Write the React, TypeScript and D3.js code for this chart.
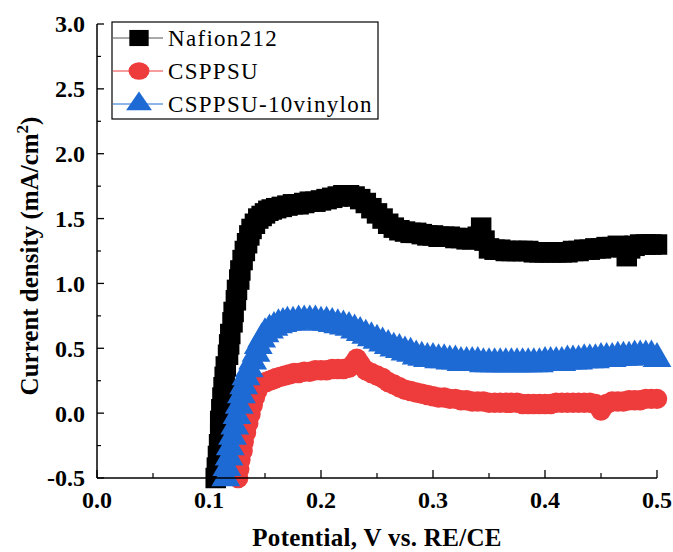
import React from "react";
import * as d3 from "d3";

// ---- data (potential V, current density mA/cm2) ----
const nafion212: [number, number][] = [
  [0.106, -0.5], [0.107, -0.42], [0.108, -0.33], [0.109, -0.24], [0.110, -0.15], [0.110, -0.06],
  [0.111, 0.03], [0.112, 0.12], [0.113, 0.2], [0.114, 0.28], [0.115, 0.36], [0.117, 0.45],
  [0.118, 0.53], [0.119, 0.61], [0.121, 0.7], [0.122, 0.78], [0.124, 0.87], [0.125, 0.95],
  [0.127, 1.03], [0.128, 1.1], [0.130, 1.18], [0.132, 1.25], [0.134, 1.31], [0.136, 1.37],
  [0.138, 1.42], [0.141, 1.46], [0.144, 1.5], [0.147, 1.52], [0.150, 1.54], [0.153, 1.56],
  [0.156, 1.57], [0.160, 1.58], [0.165, 1.59], [0.170, 1.6], [0.175, 1.61], [0.180, 1.61],
  [0.185, 1.62], [0.190, 1.63], [0.195, 1.63], [0.200, 1.64], [0.205, 1.65], [0.210, 1.66],
  [0.215, 1.67], [0.220, 1.68], [0.225, 1.68], [0.230, 1.67], [0.235, 1.65], [0.240, 1.62],
  [0.245, 1.58], [0.250, 1.54], [0.255, 1.5], [0.260, 1.46], [0.265, 1.43], [0.270, 1.41],
  [0.275, 1.4], [0.280, 1.39], [0.285, 1.39], [0.290, 1.38], [0.295, 1.37], [0.300, 1.37],
  [0.305, 1.36], [0.310, 1.36], [0.315, 1.36], [0.320, 1.35], [0.325, 1.35], [0.330, 1.34],
  [0.335, 1.34], [0.340, 1.36], [0.343, 1.43], [0.346, 1.33], [0.350, 1.27], [0.355, 1.26],
  [0.360, 1.26], [0.365, 1.25], [0.370, 1.25], [0.375, 1.25], [0.380, 1.25], [0.385, 1.25],
  [0.390, 1.24], [0.395, 1.24], [0.400, 1.24], [0.405, 1.24], [0.410, 1.24], [0.415, 1.24],
  [0.420, 1.24], [0.425, 1.25], [0.430, 1.25], [0.435, 1.26], [0.440, 1.26], [0.445, 1.27],
  [0.450, 1.27], [0.455, 1.28], [0.460, 1.28], [0.465, 1.29], [0.470, 1.28], [0.473, 1.21],
  [0.476, 1.27], [0.480, 1.29], [0.485, 1.3], [0.490, 1.3], [0.495, 1.3], [0.500, 1.3],
];

const csppsu: [number, number][] = [
  [0.126, -0.5], [0.127, -0.43], [0.128, -0.36], [0.130, -0.29], [0.131, -0.22], [0.133, -0.15],
  [0.135, -0.08], [0.137, -0.01], [0.139, 0.06], [0.141, 0.12], [0.143, 0.17], [0.145, 0.21],
  [0.148, 0.23], [0.151, 0.24], [0.154, 0.25], [0.157, 0.26], [0.160, 0.27], [0.164, 0.28],
  [0.168, 0.29], [0.172, 0.3], [0.176, 0.31], [0.180, 0.31], [0.185, 0.32], [0.190, 0.32],
  [0.195, 0.33], [0.200, 0.33], [0.205, 0.33], [0.210, 0.34], [0.215, 0.34], [0.220, 0.34],
  [0.225, 0.35], [0.229, 0.38], [0.232, 0.42], [0.235, 0.38], [0.240, 0.33], [0.245, 0.31],
  [0.250, 0.29], [0.255, 0.27], [0.260, 0.24], [0.265, 0.22], [0.270, 0.2], [0.275, 0.18],
  [0.280, 0.17], [0.285, 0.16], [0.290, 0.15], [0.295, 0.14], [0.300, 0.13], [0.305, 0.12],
  [0.310, 0.12], [0.315, 0.11], [0.320, 0.11], [0.325, 0.1], [0.330, 0.1], [0.335, 0.09],
  [0.340, 0.09], [0.345, 0.09], [0.350, 0.08], [0.355, 0.08], [0.360, 0.08], [0.365, 0.08],
  [0.370, 0.08], [0.375, 0.08], [0.380, 0.07], [0.385, 0.07], [0.390, 0.07], [0.395, 0.07],
  [0.400, 0.07], [0.405, 0.07], [0.410, 0.08], [0.415, 0.08], [0.420, 0.08], [0.425, 0.08],
  [0.430, 0.08], [0.435, 0.08], [0.440, 0.08], [0.445, 0.07], [0.450, 0.02], [0.455, 0.07],
  [0.460, 0.09], [0.465, 0.09], [0.470, 0.09], [0.475, 0.1], [0.480, 0.1], [0.485, 0.1],
  [0.490, 0.11], [0.495, 0.11], [0.500, 0.11],
];

const csppsu10vinylon: [number, number][] = [
  [0.115, -0.5], [0.116, -0.42], [0.118, -0.34], [0.119, -0.26], [0.121, -0.18], [0.123, -0.1],
  [0.125, -0.02], [0.127, 0.06], [0.129, 0.14], [0.131, 0.21], [0.133, 0.28], [0.136, 0.34],
  [0.139, 0.4], [0.142, 0.46], [0.144, 0.52], [0.147, 0.57], [0.150, 0.61], [0.154, 0.64],
  [0.158, 0.66], [0.162, 0.68], [0.166, 0.69], [0.170, 0.7], [0.175, 0.7], [0.180, 0.71],
  [0.185, 0.71], [0.190, 0.71], [0.195, 0.71], [0.200, 0.7], [0.205, 0.7], [0.210, 0.69],
  [0.215, 0.68], [0.220, 0.67], [0.225, 0.66], [0.230, 0.64], [0.235, 0.62], [0.240, 0.6],
  [0.245, 0.58], [0.250, 0.56], [0.255, 0.54], [0.260, 0.52], [0.265, 0.5], [0.270, 0.49],
  [0.275, 0.47], [0.280, 0.46], [0.285, 0.44], [0.290, 0.43], [0.295, 0.42], [0.300, 0.42],
  [0.305, 0.41], [0.310, 0.41], [0.315, 0.4], [0.320, 0.4], [0.325, 0.39], [0.330, 0.39],
  [0.335, 0.39], [0.340, 0.39], [0.345, 0.38], [0.350, 0.38], [0.355, 0.38], [0.360, 0.38],
  [0.365, 0.38], [0.370, 0.38], [0.375, 0.38], [0.380, 0.38], [0.385, 0.38], [0.390, 0.38],
  [0.395, 0.38], [0.400, 0.39], [0.405, 0.39], [0.410, 0.39], [0.415, 0.39], [0.420, 0.4],
  [0.425, 0.4], [0.430, 0.4], [0.435, 0.41], [0.440, 0.41], [0.445, 0.41], [0.450, 0.42],
  [0.455, 0.42], [0.460, 0.42], [0.465, 0.43], [0.470, 0.43], [0.475, 0.43], [0.480, 0.44],
  [0.485, 0.44], [0.490, 0.44], [0.495, 0.44], [0.500, 0.42],
];

const seriesNames = ["Nafion212", "CSPPSU", "CSPPSU-10vinylon"];
const xTickValues = [0.0, 0.1, 0.2, 0.3, 0.4, 0.5];
const yTickValues = [-0.5, 0.0, 0.5, 1.0, 1.5, 2.0, 2.5, 3.0];
const xTitle = "Potential, V vs. RE/CE";
const yTitle = "Current density (mA/cm";

const W = 673;
const H = 552;
const FONT = "'Liberation Serif', 'Times New Roman', serif";

export default function App() {
  const x = d3.scaleLinear().domain([0, 0.5]).range([97, 657]);
  const y = d3.scaleLinear().domain([-0.5, 3.0]).range([478, 24]);

  const series = [
    { name: seriesNames[0], data: nafion212, color: "#000000", lineColor: "#555555", symbol: d3.symbolSquare, size: 420, legendSize: 260 },
    { name: seriesNames[1], data: csppsu, color: "#EE3B3B", lineColor: "#EE3B3B", symbol: d3.symbolCircle, size: 330, legendSize: 240 },
    { name: seriesNames[2], data: csppsu10vinylon, color: "#1E6AD4", lineColor: "#1E6AD4", symbol: d3.symbolTriangle, size: 360, legendSize: 200 },
  ];

  const line = d3.line<[number, number]>().x((d) => x(d[0])).y((d) => y(d[1]));

  const xMinor = d3.range(0.05, 0.5, 0.1);
  const yMinor = d3.range(-0.25, 3.0, 0.5);
  const x0 = x.range()[0];
  const y0 = y.range()[0];

  return (
    <svg
      width={W}
      height={H}
      style={{ position: "fixed", left: 0, top: 0, background: "#fff" }}
      fontFamily={FONT}
    >
      <rect x={0} y={0} width={W} height={H} fill="#fff" />

      {/* series */}
      {series.map((s) => (
        <g key={s.name}>
          <path d={line(s.data) || ""} fill="none" stroke={s.lineColor} strokeWidth={1} />
          {s.data.map((d, i) => (
            <path
              key={i}
              d={d3.symbol().type(s.symbol).size(s.size)() || ""}
              transform={`translate(${x(d[0])},${y(d[1])})`}
              fill={s.color}
            />
          ))}
        </g>
      ))}

      {/* axes */}
      <line x1={x0} x2={x0} y1={y.range()[1]} y2={y0} stroke="#000" strokeWidth={1.5} />
      <line x1={x0} x2={x.range()[1]} y1={y0} y2={y0} stroke="#000" strokeWidth={1.5} />

      {yTickValues.map((t) => (
        <g key={"yt" + t}>
          <line x1={x0} x2={x0 + 7} y1={y(t)} y2={y(t)} stroke="#000" strokeWidth={1.3} />
          <text
            x={x0 - 12}
            y={y(t)}
            dy="0.35em"
            textAnchor="end"
            fontSize={24}
            fontWeight="bold"
          >
            {t.toFixed(1)}
          </text>
        </g>
      ))}
      {yMinor.map((t) => (
        <line key={"ym" + t} x1={x0} x2={x0 + 4} y1={y(t)} y2={y(t)} stroke="#000" strokeWidth={1.2} />
      ))}

      {xTickValues.map((t) => (
        <g key={"xt" + t}>
          <line x1={x(t)} x2={x(t)} y1={y0} y2={y0 - 8} stroke="#000" strokeWidth={1.3} />
          <text x={x(t)} y={508} textAnchor="middle" fontSize={24} fontWeight="bold">
            {t.toFixed(1)}
          </text>
        </g>
      ))}
      {xMinor.map((t) => (
        <line key={"xm" + t} x1={x(t)} x2={x(t)} y1={y0} y2={y0 - 5} stroke="#000" strokeWidth={1.2} />
      ))}

      {/* axis titles */}
      <text x={377} y={546} textAnchor="middle" fontSize={25} fontWeight="bold" style={{ letterSpacing: "0.3px" }}>
        {xTitle}
      </text>
      <text transform="translate(38,256) rotate(-90)" textAnchor="middle" fontSize={25} fontWeight="bold">
        {yTitle}
        <tspan dy={-10} fontSize={17}>2</tspan>
        <tspan dy={10}>)</tspan>
      </text>

      {/* legend */}
      <rect x={112} y={22} width={266} height={97} fill="#fff" stroke="#000" strokeWidth={1.2} />
      {series.map((s, i) => {
        const cy = 38 + i * 33;
        return (
          <g key={"lg" + s.name}>
            <line x1={113} x2={163} y1={cy} y2={cy} stroke={s.lineColor} strokeWidth={1} />
            <path
              d={d3.symbol().type(s.symbol).size(s.legendSize)() || ""}
              transform={`translate(139,${cy}) scale(1.2,1)`}
              fill={s.color}
            />
            <text x={168} y={cy} dy="0.35em" fontSize={23} style={{ letterSpacing: "1.3px" }}>
              {s.name}
            </text>
          </g>
        );
      })}
    </svg>
  );
}
